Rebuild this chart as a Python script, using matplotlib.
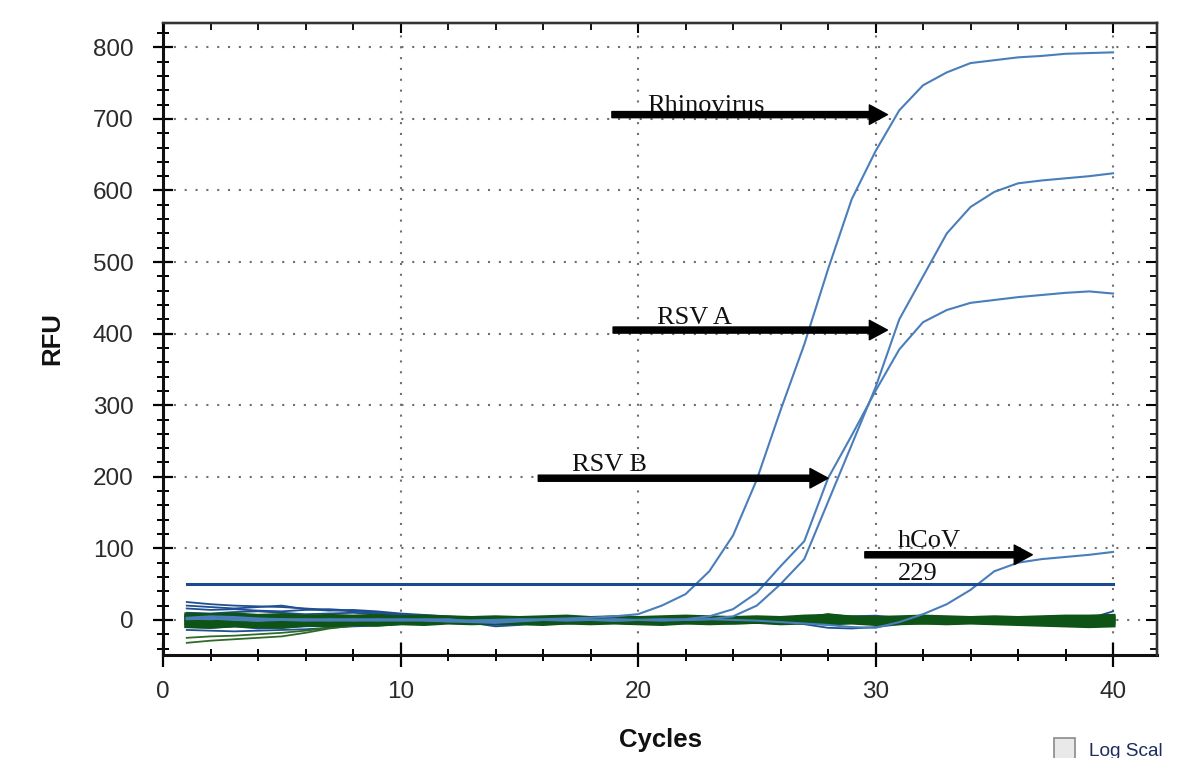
import numpy as np
import matplotlib
matplotlib.use("Agg")
import matplotlib.pyplot as plt
from matplotlib.patches import Rectangle

plt.rcParams['font.family'] = ['Liberation Sans', 'DejaVu Sans']

# Цикли ПЛР
cycles = np.arange(1, 41)

# Криві ампліфікації
rhinovirus = [3, 5, 4, 2, 1, 0, 1, 0, -1, 0, 1, 0, -1, 0, 0, 1, 2, 3, 5, 8,
              20, 36, 68, 118, 196, 293, 385, 490, 588, 655, 712, 747, 765, 778, 782, 786, 788, 791, 792, 793]
rsv_a = [2, 1, 3, 1, 0, -1, 0, 1, 0, -1, 0, 1, -2, -3, -1, 0, 1, 0, -1, 0,
         1, 0, 1, 5, 20, 50, 85, 165, 245, 325, 420, 480, 540, 577, 598, 610, 614, 617, 620, 624]
rsv_b = [2, 3, 1, -1, 0, 1, 0, -1, 0, 1, 0, -2, -3, -4, -2, 0, 1, 0, -1, 0,
         0, 1, 5, 15, 38, 75, 110, 198, 258, 320, 378, 416, 433, 443, 447, 451, 454, 457, 459, 456]
hcov_229 = [1, 2, 0, -1, 1, 0, -1, 0, 1, 0, -1, -2, -1, 0, 1, 0, -1, 0, 1, 0,
            -1, 0, 1, 0, -1, -3, -5, -7, -10, -11, -3, 8, 22, 42, 68, 80, 85, 88, 91, 95]

# Поріг
threshold = 50

# Фонові криві (сині)
blue_bg = [
    [25, 22, 20, 19, 18, 16, 14, 12, 10, 8, 6, 4, 3, 2, 1, 0, 1, 2, 1, 0,
     0, 1, 0, -1, 0, 1, 2, 1, 0, -1, 0, 1, 0, 1, 2, 1, 0, 1, 2, 3],
    [20, 18, 16, 18, 20, 15, 13, 14, 12, 9, 7, 5, 3, 1, -1, -2, 0, 2, 3, 1,
     -1, -3, -2, 0, 1, 0, -1, -2, 0, 2, 1, 0, -1, 0, 1, 0, -1, 0, 1, 0],
    [16, 14, 15, 13, 12, 14, 15, 13, 10, 8, 6, 4, 2, -1, -3, -2, 0, 1, 0, -1,
     1, 2, 1, 0, -1, -2, -1, 0, 3, 2, 0, -1, 0, 1, 0, -1, -2, -1, 0, 2],
    [-14, -15, -16, -15, -14, -13, -11, -9, -8, -6, -4, -2, -4, -9, -7, -3, -2, -1, -3, -5,
     -4, -2, -3, -1, -2, -4, -3, -1, 2, 1, -1, -3, -2, 0, -1, -2, -3, -4, -7, -5],
    [10, 9, 11, 12, 10, 8, 9, 10, 8, 6, 4, 2, 0, -2, -1, 0, 1, 0, -1, 0,
     1, 0, 1, 2, 1, 0, 1, 2, 5, 6, 3, 1, 2, 3, 1, 0, 1, 0, 2, 12],
    [3, 1, -2, -4, -6, -5, -3, -1, 0, 2, 4, 2, 0, -3, -5, -4, -2, 0, 1, 0,
     -2, -1, 0, 1, 0, -2, -6, -11, -12, -10, -6, -2, 0, 1, 2, 1, 0, -1, -4, -6],
    [-10, -11, -9, -12, -11, -9, -8, -6, -5, -4, -3, -4, -5, -7, -6, -4, -3, -4, -2, -3,
     -4, -5, -3, -2, -4, -5, -4, -3, -2, -4, -5, -3, -2, -4, -3, -2, -4, -6, -8, -6],
]

# Фонові криві (зелені): дві тонкі нижні та щільна смуга
green_thin = [
    [-32, -29, -27, -25, -23, -18, -12, -8, -5, -3, -2, -1, 0, 1, 0, -1, 0, 1, 2, 0,
     -1, 0, 1, 0, -1, 0, 2, 3, 1, 0, -1, 0, 1, 0, -1, -2, -3, -4, -3, -2],
    [-25, -23, -22, -20, -18, -15, -11, -7, -4, -2, -1, 0, 1, 0, -2, -1, 1, 0, -2, 0,
     1, -1, -2, 0, 1, 0, -1, 1, 2, 0, -1, 1, 0, -2, -1, 0, -2, -1, 0, -1],
]
green_bg = [
    [7, 6, 7, 5, 6, 4, 5, 4, 5, 3, 4, 3, 2, 3, 2, 3, 4, 2, 3, 2,
     3, 4, 3, 2, 3, 2, 4, 5, 3, 2, 3, 4, 3, 2, 3, 2, 3, 4, 4, 5],
    [-8, -9, -7, -8, -9, -6, -7, -5, -6, -4, -5, -3, -4, -3, -4, -5, -3, -4, -3, -4,
     -5, -3, -4, -3, -2, -4, -3, -4, -3, -5, -4, -3, -4, -3, -4, -5, -6, -7, -8, -7],
    [0, -2, 1, -1, 2, 0, -1, 1, 0, -1, 1, 0, -1, 0, 1, -1, 0, 1, 0, -1,
     0, 1, -1, 0, 1, 0, 2, 1, 0, -1, 0, 1, 0, -1, 0, 1, -1, 0, -2, 0],
    [4, 2, 3, 1, 2, 3, 1, 2, 0, 1, 2, 1, 0, 1, 2, 0, 1, 2, 0, 1,
     2, 1, 0, 2, 1, 0, 1, 6, 2, 1, 0, 1, 2, 1, 0, 1, 2, 3, 2, 3],
    [-4, -5, -3, -4, -5, -3, -2, -3, -2, -3, -1, -2, -3, -2, -1, -2, -3, -1, -2, -3,
     -2, -1, -2, -3, -2, -1, -2, -3, -2, -1, -2, -3, -2, -1, -2, -3, -4, -5, -4, -3],
]

# Підписи стрілок: (текст, x тексту, y тексту, x початку, x кінця, y стрілки)
labels = [
    ("Rhinovirus", 20.4, 710, 18.9, 30.5, 706),
    ("RSV A", 20.8, 414, 18.95, 30.5, 405),
    ("RSV B", 17.2, 208, 15.8, 28.0, 198),
    ("hCoV", 30.95, 102, 29.55, 36.6, 91),
    ("229", 30.95, 56, None, None, None),
]

xmaj = [0, 10, 20, 30, 40]
xmin = np.arange(0, 42, 2)
ymaj = np.arange(0, 801, 100)
ymin = np.arange(-40, 834, 20)
xlim = (0, 41.85)
ylim = (-49, 834)

fig = plt.figure(figsize=(11.85, 7.58), dpi=100)
ax = fig.add_axes([163 / 1185, 1 - 655 / 758, (1157 - 163) / 1185, (655 - 23) / 758])

amp_color = "#4a7ebb"
for tr in blue_bg:
    ax.plot(cycles, tr, color="#1f4f91", lw=1.3, zorder=2)
for tr in green_thin:
    ax.plot(cycles, tr, color="#2e6b2a", lw=1.3, zorder=3)
for tr in green_bg:
    ax.plot(cycles, tr, color="#0d5416", lw=3.6, zorder=3)
for tr in [rhinovirus, rsv_a, rsv_b, hcov_229]:
    ax.plot(cycles, tr, color=amp_color, lw=1.5, zorder=4)
ax.plot([cycles[0], cycles[-1]], [threshold, threshold], color="#1c4a8f", lw=2.2, zorder=4)

for text, tx, ty, x0, x1, ya in labels:
    ax.text(tx, ty, text, fontsize=19, family=["Liberation Serif", "DejaVu Serif"],
            va="baseline", ha="left", color="#111111", zorder=6)
    if x0 is not None:
        ax.annotate("", xy=(x1, ya), xytext=(x0, ya),
                    arrowprops=dict(arrowstyle="simple,head_length=0.65,head_width=0.7,tail_width=0.22",
                                    color="black", mutation_scale=20, shrinkA=0, shrinkB=0),
                    zorder=7)

ax.set_xlim(*xlim)
ax.set_ylim(*ylim)
ax.set_xticks(xmaj)
ax.set_xticks(xmin, minor=True)
ax.set_yticks(ymaj)
ax.set_yticks(ymin, minor=True)

ax.grid(True, which="major", linestyle=(0, (1, 4.2)), color="#6f6f6f", lw=1.5)
ax.set_axisbelow(True)

ax.tick_params(axis="y", which="major", direction="inout", length=14.4, width=1.6,
               labelsize=17.5, pad=14, labelcolor="#2a2a2a")
ax.tick_params(axis="x", which="major", direction="inout", length=17, width=1.6,
               labelsize=17.5, pad=10, labelcolor="#2a2a2a")
ax.tick_params(which="minor", direction="inout", length=8.6, width=1.4)
ax.tick_params(which="both", top=False, right=False)

for side in ["left", "bottom"]:
    ax.spines[side].set_linewidth(2.2)
    ax.spines[side].set_color("#111111")
for side in ["top", "right"]:
    ax.spines[side].set_linewidth(1.6)
    ax.spines[side].set_color("#333333")

# Засічки зверху та справа (всередину)
axt = ax.twiny()
axt.set_xlim(*xlim)
axt.set_xticks(xmaj)
axt.set_xticks(xmin, minor=True)
axt.tick_params(which="both", direction="in", labeltop=False, bottom=False, top=True)
axt.tick_params(which="major", length=7.5, width=1.5)
axt.tick_params(which="minor", length=5, width=1.3)

axr = ax.twinx()
axr.set_ylim(*ylim)
axr.set_yticks(ymaj)
axr.set_yticks(ymin, minor=True)
axr.tick_params(which="both", direction="in", labelright=False, left=False, right=True)
axr.tick_params(which="major", length=8, width=1.5)
axr.tick_params(which="minor", length=5, width=1.3)

for a in [axt, axr]:
    for side in ["left", "bottom"]:
        a.spines[side].set_visible(False)
    for side in ["top", "right"]:
        a.spines[side].set_linewidth(1.6)
        a.spines[side].set_color("#333333")

fig.text(660 / 1185, 1 - 740 / 758, "Cycles", fontsize=18.5, fontweight="bold",
         ha="center", va="center", color="#111111")
fig.text(52 / 1185, 1 - 339 / 758, "RFU", fontsize=18.5, fontweight="bold",
         ha="center", va="center", rotation=90, color="#111111")

# Прапорець "Log Scale"
fig.add_artist(Rectangle((1054 / 1185, -4 / 758), 21 / 1185, 24 / 758, transform=fig.transFigure,
                         facecolor="#e9e9e9", edgecolor="#8a8a8a", lw=1.2))
fig.text(1089 / 1185, 1 - 756 / 758, "Log Scal", fontsize=13.7, va="baseline", ha="left",
         color="#1d2b5e")

fig.savefig("out.png", dpi=100)
